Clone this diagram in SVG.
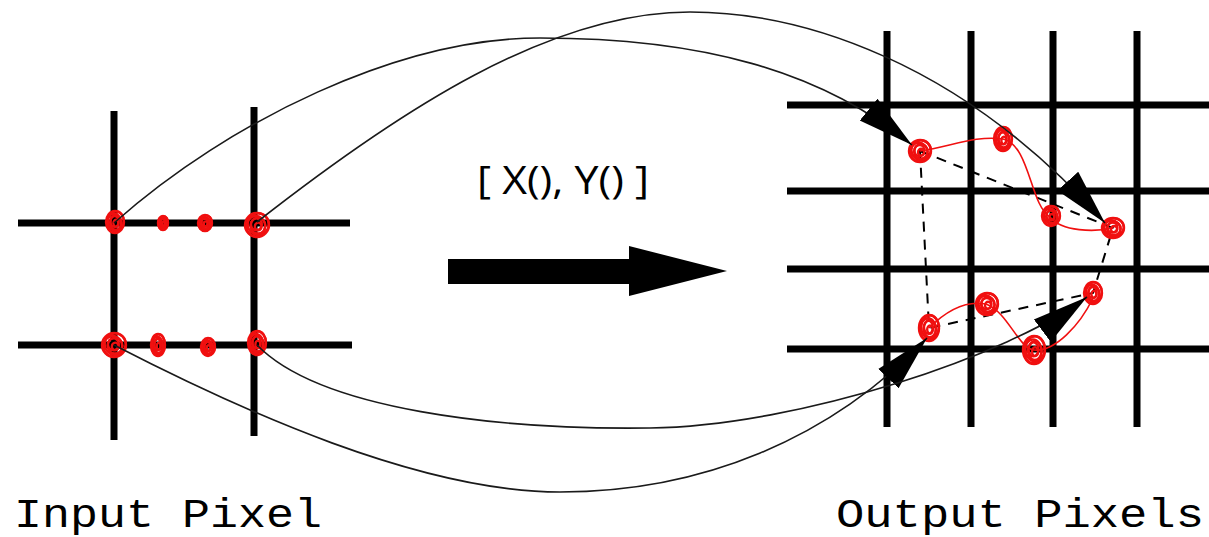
<svg xmlns="http://www.w3.org/2000/svg" xmlns:xlink="http://www.w3.org/1999/xlink" width="1209" height="537" viewBox="0 0 1209 537">
<style>
.grid line{stroke:#000;stroke-width:7;}
.conn{fill:none;stroke:#1a1a1a;stroke-width:1.6;}
.dash{fill:none;stroke:#000;stroke-width:2;stroke-dasharray:10 8;}
.red{fill:none;stroke:#f01010;stroke-width:1.6;}
.scr ellipse{fill:none;stroke:#f01010;stroke-width:2.4;vector-effect:non-scaling-stroke;}
.mono{font-family:"Liberation Mono","Courier New",monospace;font-size:40px;fill:#000;}
.sans{font-family:"Open Sans","Liberation Sans",sans-serif;font-size:38px;fill:#000;}
</style>
<defs>
<g id="scrib" class="scr">
<ellipse cx="0" cy="0" rx="1" ry="1"/>
<ellipse cx="0.1" cy="-0.08" rx="0.88" ry="0.9"/>
<ellipse cx="-0.1" cy="0.1" rx="0.78" ry="0.85"/>
<ellipse cx="0.08" cy="0.05" rx="0.62" ry="0.66"/>
<ellipse cx="-0.05" cy="-0.05" rx="0.45" ry="0.5"/>
<ellipse cx="0.1" cy="0.12" rx="0.28" ry="0.32"/>
</g>
<marker id="ah" viewBox="-56 -16 57 32" refX="0" refY="0" markerWidth="57" markerHeight="32" markerUnits="userSpaceOnUse" orient="auto">
<path d="M0,0 L-56,-14 L-56,14 Z" fill="#000"/>
</marker>
</defs>
<rect width="1209" height="537" fill="#fff"/>

<g id="input-grid" class="grid">
<line x1="18" y1="223" x2="350" y2="223"/>
<line x1="18" y1="345" x2="352" y2="345"/>
<line x1="114" y1="111" x2="114" y2="440"/>
<line x1="254" y1="107" x2="254" y2="436"/>
</g>
<g id="input-samples">
<use xlink:href="#scrib" transform="translate(115,222) scale(9,11)"/>
<use xlink:href="#scrib" transform="translate(163,223) scale(5,7)"/>
<use xlink:href="#scrib" transform="translate(205,223) scale(7,8)"/>
<use xlink:href="#scrib" transform="translate(257,225) scale(12,12)"/>
<use xlink:href="#scrib" transform="translate(114,345) scale(12,12)"/>
<use xlink:href="#scrib" transform="translate(158,345) scale(7,11)"/>
<use xlink:href="#scrib" transform="translate(208,347) scale(7,9)"/>
<use xlink:href="#scrib" transform="translate(257,343) scale(9,12)"/>
</g>

<g id="output-grid" class="grid">
<line x1="787" y1="105" x2="1209" y2="105"/>
<line x1="787" y1="191" x2="1209" y2="191"/>
<line x1="787" y1="269" x2="1209" y2="269"/>
<line x1="787" y1="349" x2="1209" y2="349"/>
<line x1="887" y1="31" x2="887" y2="427"/>
<line x1="971" y1="31" x2="971" y2="427"/>
<line x1="1053" y1="31" x2="1053" y2="427"/>
<line x1="1137" y1="31" x2="1137" y2="427"/>
</g>
<g id="output-quad">
<path class="dash" d="M920,151 L1113,228 L1093,293 L929,328 Z"/>
<path class="red" d="M920,151 C950,147 975,135 1003,139 C1030,145 1030,205 1050,217 C1062,232 1095,232 1113,228"/>
<path class="red" d="M929,328 C945,312 965,300 986,304 C1008,312 1018,348 1034,350 C1055,352 1080,325 1093,298"/>
<use xlink:href="#scrib" transform="translate(920,151) scale(11,11)"/>
<use xlink:href="#scrib" transform="translate(1003,139) scale(9,12)"/>
<use xlink:href="#scrib" transform="translate(1051,216) scale(9,10)"/>
<use xlink:href="#scrib" transform="translate(1113,228) scale(11,10)"/>
<use xlink:href="#scrib" transform="translate(1093,293) scale(9,11)"/>
<use xlink:href="#scrib" transform="translate(929,328) scale(10,13)"/>
<use xlink:href="#scrib" transform="translate(987,304) scale(11,11)"/>
<use xlink:href="#scrib" transform="translate(1034,350) scale(11,14)"/>
</g>

<g id="connectors">
<path class="conn" marker-end="url(#ah)" d="M114,223 C230,120 400,38 540,38 C700,38 820,70 912,145"/>
<path class="conn" marker-end="url(#ah)" d="M257,222 C400,110 550,12 690,12 C800,12 960,60 1105,223"/>
<path class="conn" marker-end="url(#ah)" d="M114,345 C240,410 420,492 560,492 C700,492 830,440 927,338"/>
<path class="conn" marker-end="url(#ah)" d="M257,345 C320,410 500,430 650,428 C800,426 1010,355 1087,297"/>
</g>

<g id="transform-arrow">
<path d="M448,259 L629,259 L629,246 L727,271 L629,296 L629,284 L448,284 Z" fill="#000"/>
<text class="sans" x="563" y="194" text-anchor="middle" textLength="172" lengthAdjust="spacingAndGlyphs">[ X(), Y() ]</text>
</g>

<g id="label-input"><text class="mono" x="14" y="527" textLength="308" lengthAdjust="spacingAndGlyphs">Input Pixel</text></g>
<g id="label-output"><text class="mono" x="836" y="527" textLength="368" lengthAdjust="spacingAndGlyphs">Output Pixels</text></g>
</svg>
